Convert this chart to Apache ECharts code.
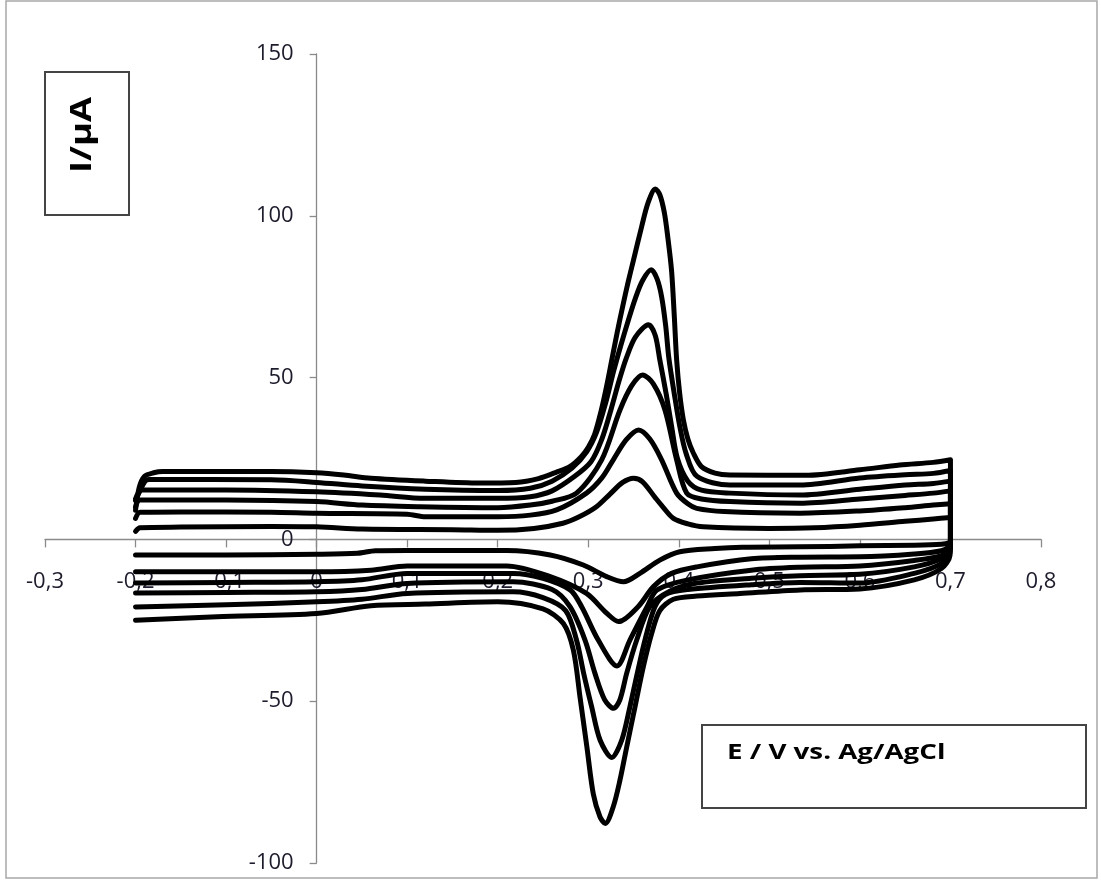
<!DOCTYPE html>
<html>
<head>
<meta charset="utf-8">
<script src="https://cdn.jsdelivr.net/npm/echarts@6/dist/echarts.min.js"></script>
<style>
html,body{margin:0;padding:0;background:#fff;}
#chart{width:1101px;height:881px;}
</style>
</head>
<body>
<div id="chart"></div>
<script>
// Axis ticks
const xTicks = [-0.3, -0.2, -0.1, 0, 0.1, 0.2, 0.3, 0.4, 0.5, 0.6, 0.7, 0.8];
const yTicks = [-100, -50, 0, 50, 100, 150];

// Cyclic voltammograms: [E (V), I (µA)] forward scan then reverse scan
const cv1 = [
  [-0.2, 2.5], [-0.195, 3.6], [-0.15, 3.8], [-0.05, 4.0], [0.0, 3.9], [0.05, 3.2], [0.15, 3.0], [0.2, 2.8],
  [0.24, 3.4], [0.272, 5.0], [0.29, 7.0], [0.309, 10.1], [0.324, 14.0], [0.338, 17.6], [0.350, 18.9],
  [0.36, 17.8], [0.3737, 13.0], [0.3825, 10.0], [0.394, 6.5], [0.41, 4.8], [0.427, 3.9], [0.5, 3.4],
  [0.55, 3.6], [0.6, 4.4], [0.65, 5.6], [0.681, 6.3], [0.7, 6.8],
  [0.7, -0.5], [0.699, -1.0], [0.69, -1.5], [0.66, -1.8], [0.6, -2.0], [0.534, -2.3], [0.47, -2.4],
  [0.44, -2.8], [0.401, -3.8], [0.379, -6.4], [0.357, -10.5], [0.339, -13.1], [0.3203, -11.5],
  [0.2945, -7.9], [0.258, -4.8], [0.21, -3.4], [0.1, -3.4], [0.065, -3.5], [0.045, -4.3], [0.0, -4.6],
  [-0.1, -4.8], [-0.2, -4.8]
];
const cv2 = [
  [-0.2, 6.5], [-0.195, 8.4], [-0.15, 8.5], [-0.05, 8.4], [0.0, 8.1], [0.1, 7.8], [0.12, 7.0], [0.2, 7.0],
  [0.236, 7.5], [0.265, 9.1], [0.298, 14.3], [0.315, 19.0], [0.3276, 24.6], [0.342, 30.8], [0.3556, 33.8],
  [0.368, 31.0], [0.381, 24.6], [0.3976, 14.3], [0.41, 11.0], [0.4197, 9.6], [0.45, 8.6], [0.534, 8.1],
  [0.6, 8.8], [0.65, 9.8], [0.681, 10.6], [0.7, 11.0],
  [0.7, -0.5], [0.699, -2.0], [0.69, -3.5], [0.66, -4.5], [0.6, -5.4], [0.534, -5.5], [0.48, -6.0],
  [0.42, -8.5], [0.392, -10.5], [0.372, -14.6], [0.355, -20.8], [0.3335, -25.4], [0.3203, -22.8],
  [0.298, -16.7], [0.258, -11.5], [0.21, -8.2], [0.1, -8.2], [0.06, -9.5], [0.0, -10.0], [-0.1, -10.0],
  [-0.2, -10.0]
];
const cv3 = [
  [-0.2, 10.0], [-0.195, 12.2], [-0.1, 12.2], [0.0, 11.7], [0.05, 10.6], [0.114, 10.1], [0.2, 9.8],
  [0.236, 10.6], [0.26, 11.8], [0.287, 14.3], [0.3148, 24.6], [0.335, 40.0], [0.348, 47.5], [0.360, 50.8],
  [0.372, 48.0], [0.3847, 40.0], [0.3976, 24.6], [0.4087, 14.3], [0.425, 12.5], [0.4565, 11.7],
  [0.534, 11.2], [0.6, 12.5], [0.65, 13.6], [0.681, 14.3], [0.7, 15.0],
  [0.7, -0.5], [0.699, -3.0], [0.69, -5.0], [0.66, -6.5], [0.6, -8.2], [0.534, -8.6], [0.48, -9.5],
  [0.41, -12.5], [0.376, -15.6], [0.365, -20.8], [0.346, -31.1], [0.3317, -39.1], [0.311, -31.1],
  [0.2927, -20.8], [0.28, -15.6], [0.25, -12.0], [0.217, -10.5], [0.1, -10.5], [0.05, -12.5],
  [0.0, -13.1], [-0.1, -13.3], [-0.2, -13.5]
];
const cv4 = [
  [-0.2, 12.5], [-0.193, 15.3], [-0.1, 15.3], [0.0, 14.7], [0.07, 13.7], [0.12, 12.7], [0.2, 12.7],
  [0.236, 13.2], [0.26, 15.0], [0.285, 19.5], [0.303, 24.0], [0.315, 31.0], [0.325, 40.0], [0.334, 49.0],
  [0.342, 56.0], [0.352, 62.5], [0.3666, 66.3], [0.374, 63.0], [0.379, 55.5], [0.386, 45.0], [0.392, 35.0],
  [0.3985, 25.0], [0.41, 18.0], [0.425, 15.2], [0.4565, 14.3], [0.534, 13.7], [0.6, 15.5], [0.65, 16.8],
  [0.681, 17.3], [0.7, 18.0],
  [0.7, -0.5], [0.699, -3.5], [0.69, -6.0], [0.66, -8.5], [0.6, -10.8], [0.534, -11.2], [0.48, -12.0],
  [0.42, -13.5], [0.39, -16.0], [0.368, -20.8], [0.3535, -31.1], [0.3424, -41.4], [0.335, -49.5],
  [0.328, -52.2], [0.318, -49.5], [0.3074, -41.4], [0.2964, -31.1], [0.2798, -20.8], [0.26, -15.5],
  [0.217, -13.1], [0.1, -13.6], [0.05, -15.5], [0.0, -16.2], [-0.1, -16.4], [-0.2, -16.6]
];
const cv5 = [
  [-0.2, 12.0], [-0.19, 17.8], [-0.185, 18.5], [-0.05, 18.4], [0.0, 17.6], [0.05, 16.5], [0.12, 15.5],
  [0.2, 15.1], [0.236, 15.8], [0.26, 18.0], [0.282, 22.0], [0.298, 27.0], [0.309, 33.0], [0.319, 42.0],
  [0.328, 52.0], [0.336, 60.0], [0.344, 67.5], [0.352, 74.5], [0.36, 80.0], [0.3696, 83.3], [0.376, 80.5],
  [0.381, 75.0], [0.3855, 66.0], [0.389, 56.0], [0.395, 45.0], [0.401, 35.0], [0.408, 26.6],
  [0.42, 19.5], [0.4565, 16.8], [0.534, 16.8], [0.6, 19.0], [0.65, 20.0], [0.681, 20.4], [0.7, 21.3],
  [0.7, -0.5], [0.6995, -4.0], [0.69, -7.5], [0.66, -10.5], [0.6, -13.5], [0.534, -13.3], [0.48, -14.0],
  [0.41, -15.5], [0.385, -17.0], [0.3736, -20.8], [0.3626, -31.1], [0.354, -41.5], [0.346, -51.7],
  [0.337, -62.0], [0.326, -67.4], [0.313, -62.0], [0.3037, -51.7], [0.295, -41.5], [0.287, -31.1],
  [0.275, -22.0], [0.25, -18.0], [0.217, -16.2], [0.1, -16.7], [0.05, -18.5], [0.0, -19.3],
  [-0.1, -20.2], [-0.2, -20.9]
];
const cv6 = [
  [-0.2, 9.0], [-0.196, 16.0], [-0.19, 19.5], [-0.18, 20.6], [-0.17, 21.0], [-0.05, 21.0], [0.0, 20.6],
  [0.03, 19.9], [0.06, 18.9], [0.12, 18.0], [0.18, 17.4], [0.22, 17.6], [0.245, 18.8], [0.265, 20.8],
  [0.28, 22.6], [0.292, 25.5], [0.3, 28.5], [0.307, 32.5], [0.314, 39.5], [0.32, 47.0], [0.326, 55.5],
  [0.332, 64.0], [0.338, 72.0], [0.344, 79.5], [0.350, 86.4], [0.359, 96.7], [0.366, 104.0], [0.374, 108.3],
  [0.379, 106.5], [0.384, 101.0], [0.388, 93.0], [0.392, 83.0], [0.395, 69.0], [0.3976, 55.5],
  [0.401, 45.0], [0.405, 37.0], [0.41, 31.0], [0.416, 26.7], [0.425, 22.5], [0.44, 20.5],
  [0.4565, 19.9], [0.54, 19.8], [0.6, 21.5], [0.644, 23.0], [0.681, 23.8], [0.7, 24.6],
  [0.7, -0.5], [0.6995, -5.0], [0.69, -9.0], [0.66, -12.5], [0.6, -15.3], [0.534, -15.6], [0.4675, -16.7],
  [0.42, -17.5], [0.394, -18.5], [0.379, -22.0], [0.37, -29.1], [0.3607, -39.5], [0.3516, -51.8],
  [0.3424, -64.2], [0.335, -74.4], [0.3276, -82.6], [0.3188, -87.8], [0.313, -85.8], [0.3055, -78.6],
  [0.2985, -64.2], [0.291, -49.0], [0.2835, -34.2], [0.2725, -26.0], [0.25, -21.5], [0.2, -19.3],
  [0.12, -20.0], [0.06, -20.5], [0.0, -22.9], [-0.11, -23.9], [-0.2, -25.0]
];
const curves = [cv1, cv2, cv3, cv4, cv5, cv6];

const yTitle = 'I/µA';
const xTitle = 'E / V vs. Ag/AgCl';

const chart = echarts.init(document.getElementById('chart'), null, {renderer: 'canvas'});
const fmt = v => String(Math.round(v * 10) / 10).replace('.', ',');
const labelFont = {fontFamily: 'Open Sans', fontSize: 22, color: '#1c1c2c'};
const axisColor = '#8a8a8a';
const GRID = {left: 45, right: 60, top: 54, bottom: 18};

function buildOption(xOffset, yOffset) {
  return {
    animation: false,
    backgroundColor: '#fff',
    grid: Object.assign({containLabel: false, outerBoundsMode: 'none'}, GRID),
    xAxis: {
      type: 'value', min: xTicks[0], max: xTicks[xTicks.length - 1], interval: 0.1,
      position: 'bottom', offset: xOffset,
      splitLine: {show: false},
      axisLine: {onZero: false, lineStyle: {color: axisColor, width: 1.3}},
      axisTick: {show: true, inside: false, length: 8, lineStyle: {color: axisColor, width: 1.3}},
      axisLabel: Object.assign({margin: 31, formatter: fmt, showMinLabel: true, showMaxLabel: true}, labelFont)
    },
    yAxis: {
      type: 'value', min: yTicks[0], max: yTicks[yTicks.length - 1], interval: 50,
      position: 'left', offset: yOffset,
      splitLine: {show: false},
      axisLine: {onZero: false, lineStyle: {color: axisColor, width: 1.3}},
      axisTick: {show: true, inside: false, length: 7, lineStyle: {color: axisColor, width: 1.3}},
      axisLabel: Object.assign({margin: 23, showMinLabel: true, showMaxLabel: true}, labelFont)
    },
    series: curves.map((d, i) => ({
      type: 'line', name: 'cv' + (i + 1), data: d, showSymbol: false, symbol: 'none',
      smooth: 0.3, z: 3,
      lineStyle: {color: '#000', width: 5, cap: 'round', join: 'round'}
    })),
    graphic: [
      {type: 'rect', shape: {x: 6, y: 1, width: 1091, height: 877},
       style: {fill: 'none', stroke: '#a8a8a8', lineWidth: 1.5}, silent: true},
      {type: 'rect', shape: {x: 45, y: 72, width: 84, height: 143},
       style: {fill: '#fff', stroke: '#444', lineWidth: 2}, z: 10},
      {type: 'text', x: 83, y: 135, rotation: Math.PI / 2, scaleX: 1.3, z: 11,
       style: {text: yTitle, font: 'bold 28px "Open Sans"', fill: '#000', align: 'center', verticalAlign: 'middle'}},
      {type: 'rect', shape: {x: 702, y: 725, width: 384, height: 83},
       style: {fill: '#fff', stroke: '#444', lineWidth: 2}, z: 10},
      {type: 'text', x: 727, y: 753, scaleX: 1.26, z: 11,
       style: {text: xTitle, font: 'bold 22px "Open Sans"', fill: '#000', align: 'left', verticalAlign: 'middle'}}
    ]
  };
}

chart.setOption(buildOption(0, 0));
// Move the axes so they cross at the data origin, using the library's own scales
const origin = chart.convertToPixel({gridIndex: 0}, [0, 0]);
const rect = chart.getModel().getComponent('grid', 0).coordinateSystem.getRect();
const xOff = origin[1] - (rect.y + rect.height);   // negative: move bottom axis up to I = 0
const yOff = rect.x - origin[0];                   // negative: move left axis right to E = 0
chart.setOption(buildOption(xOff, yOff));
</script>
</body>
</html>
